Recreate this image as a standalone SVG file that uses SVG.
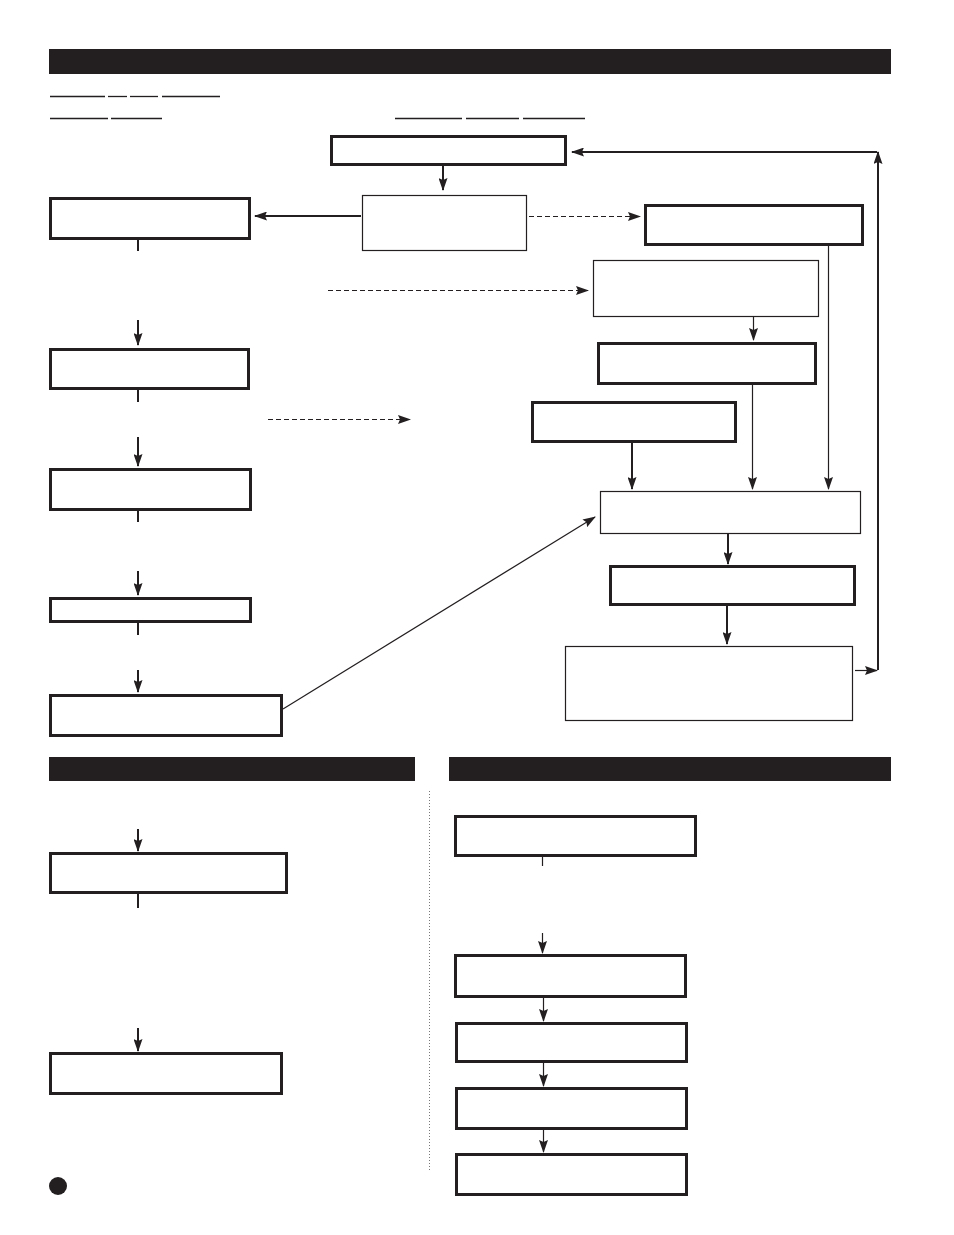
<svg xmlns="http://www.w3.org/2000/svg" width="954" height="1235" viewBox="0 0 954 1235">
<style>
.bar{fill:#231f20}
.thick{fill:#fff;stroke:#231f20;stroke-width:3}
.thin{fill:#fff;stroke:#231f20;stroke-width:1.2}
.c2{fill:none;stroke:#231f20;stroke-width:2}
.c1{fill:none;stroke:#231f20;stroke-width:1.2}
.dash{fill:none;stroke:#231f20;stroke-width:1.2;stroke-dasharray:5,3}
.ul{stroke:#231f20;stroke-width:1.3}
.dot{stroke:#777;stroke-width:1;stroke-dasharray:1,2}
</style>
<defs>
<marker id="ah" markerUnits="userSpaceOnUse" markerWidth="13" markerHeight="9" refX="12" refY="4.5" orient="auto">
<path d="M0,0 L13,4.5 L0,9 L2,4.5 z" fill="#231f20"/>
</marker>
</defs>
<rect width="954" height="1235" fill="#fff"/>
<g id="banners">
<rect class="bar" x="49" y="49" width="842" height="25"/>
<rect class="bar" x="49" y="757" width="366" height="24"/>
<rect class="bar" x="449" y="757" width="442" height="24"/>
</g>
<g id="underlines">
<line class="ul" x1="50" y1="96.5" x2="105" y2="96.5"/>
<line class="ul" x1="108" y1="96.5" x2="127" y2="96.5"/>
<line class="ul" x1="130" y1="96.5" x2="158" y2="96.5"/>
<line class="ul" x1="162" y1="96.5" x2="220" y2="96.5"/>
<line class="ul" x1="50" y1="118.5" x2="108" y2="118.5"/>
<line class="ul" x1="111" y1="118.5" x2="162" y2="118.5"/>
<line class="ul" x1="395" y1="118.5" x2="462" y2="118.5"/>
<line class="ul" x1="466" y1="118.5" x2="519" y2="118.5"/>
<line class="ul" x1="523" y1="118.5" x2="585" y2="118.5"/>
</g>
<g id="divider"><line class="dot" x1="429.5" y1="791" x2="429.5" y2="1170"/></g>
<g id="nodeA"><rect class="thick" x="331.5" y="136.5" width="234" height="28"/></g>
<g id="nodeB"><rect class="thin" x="362.5" y="195.5" width="164" height="55"/></g>
<g id="nodeC"><rect class="thick" x="50.5" y="198.5" width="199" height="40"/></g>
<g id="nodeD"><rect class="thick" x="645.5" y="205.5" width="217" height="39"/></g>
<g id="nodeE"><rect class="thin" x="593.5" y="260.5" width="225" height="56"/></g>
<g id="nodeF"><rect class="thick" x="598.5" y="343.5" width="217" height="40"/></g>
<g id="nodeG"><rect class="thick" x="532.5" y="402.5" width="203" height="39"/></g>
<g id="nodeH"><rect class="thin" x="600.5" y="491.5" width="260" height="42"/></g>
<g id="nodeI"><rect class="thick" x="610.5" y="566.5" width="244" height="38"/></g>
<g id="nodeJ"><rect class="thin" x="565.5" y="646.5" width="287" height="74"/></g>
<g id="nodeK"><rect class="thick" x="50.5" y="349.5" width="198" height="39"/></g>
<g id="nodeL"><rect class="thick" x="50.5" y="469.5" width="200" height="40"/></g>
<g id="nodeM"><rect class="thick" x="50.5" y="598.5" width="200" height="23"/></g>
<g id="nodeN"><rect class="thick" x="50.5" y="695.5" width="231" height="40"/></g>
<g id="nodeO"><rect class="thick" x="50.5" y="853.5" width="236" height="39"/></g>
<g id="nodeP"><rect class="thick" x="50.5" y="1053.5" width="231" height="40"/></g>
<g id="nodeQ"><rect class="thick" x="455.5" y="816.5" width="240" height="39"/></g>
<g id="nodeR"><rect class="thick" x="455.5" y="955.5" width="230" height="41"/></g>
<g id="nodeS"><rect class="thick" x="456.5" y="1023.5" width="230" height="38"/></g>
<g id="nodeT"><rect class="thick" x="456.5" y="1088.5" width="230" height="40"/></g>
<g id="nodeU"><rect class="thick" x="456.5" y="1154.5" width="230" height="40"/></g>
<g id="marker"><circle cx="58" cy="1186" r="9" fill="#231f20"/></g>
<g id="connectors">
<path class="c2" d="M443,166 V190" marker-end="url(#ah)"/>
<path class="c2" d="M361,216 H255" marker-end="url(#ah)"/>
<path class="dash" d="M529,216.5 H640" marker-end="url(#ah)"/>
<path class="dash" d="M328,290.5 H588" marker-end="url(#ah)"/>
<path class="c1" d="M753.5,317 V340" marker-end="url(#ah)"/>
<path class="dash" d="M268,419.5 H410" marker-end="url(#ah)"/>
<path class="c2" d="M632,443 V489" marker-end="url(#ah)"/>
<path class="c1" d="M752.5,385 V489" marker-end="url(#ah)"/>
<path class="c1" d="M828.5,246 V489" marker-end="url(#ah)"/>
<path class="c2" d="M728,534 V564" marker-end="url(#ah)"/>
<path class="c2" d="M727,606 V644" marker-end="url(#ah)"/>
<path class="c1" d="M855,670.5 H877" marker-end="url(#ah)"/>
<path class="c2" d="M878,670 V152" marker-end="url(#ah)"/>
<path class="c2" d="M877,152 H572" marker-end="url(#ah)"/>
<path class="c2" d="M138,240 V251"/>
<path class="c2" d="M138,320 V345" marker-end="url(#ah)"/>
<path class="c2" d="M138,390 V402"/>
<path class="c2" d="M138,437 V466" marker-end="url(#ah)"/>
<path class="c2" d="M138,511 V522"/>
<path class="c2" d="M138,571 V595" marker-end="url(#ah)"/>
<path class="c2" d="M138,623 V635"/>
<path class="c2" d="M138,670 V692" marker-end="url(#ah)"/>
<path class="c1" d="M283,709 L595,517" marker-end="url(#ah)"/>
<path class="c2" d="M138,829 V851" marker-end="url(#ah)"/>
<path class="c2" d="M138,894 V908"/>
<path class="c2" d="M138,1028 V1051" marker-end="url(#ah)"/>
<path class="c1" d="M542.5,857 V866"/>
<path class="c1" d="M542.5,933 V953" marker-end="url(#ah)"/>
<path class="c1" d="M543.5,998 V1021" marker-end="url(#ah)"/>
<path class="c1" d="M543.5,1063 V1086" marker-end="url(#ah)"/>
<path class="c1" d="M543.5,1130 V1152" marker-end="url(#ah)"/>
</g>
</svg>
